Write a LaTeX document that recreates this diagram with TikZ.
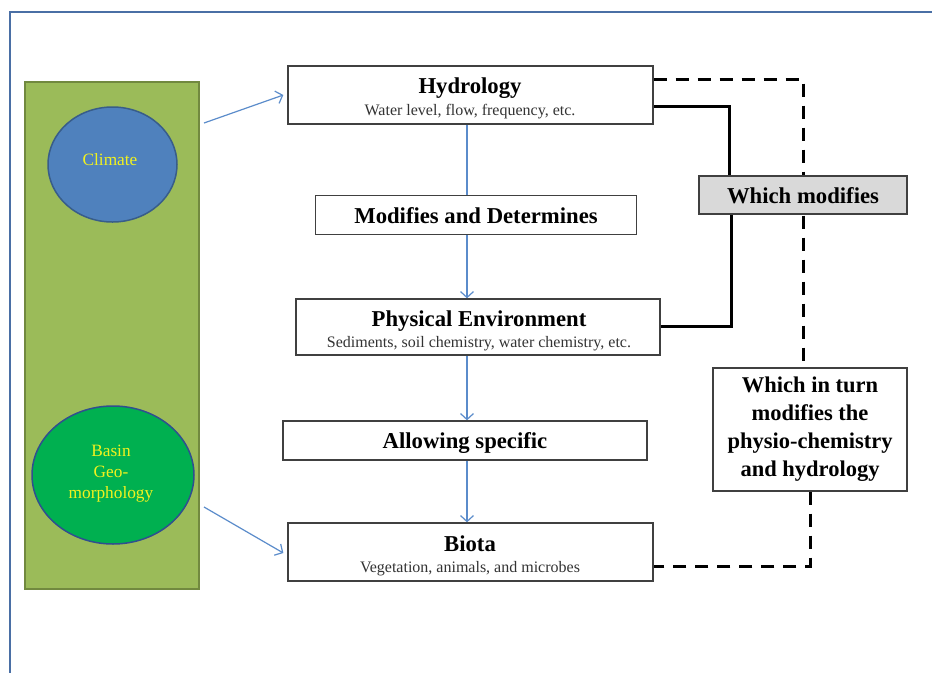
\documentclass[tikz,border=0pt]{standalone}
\usepackage{fontspec}
\setmainfont{Liberation Serif}
\usetikzlibrary{arrows.meta,shapes.geometric,backgrounds}
\definecolor{framec}{HTML}{4A6FA5}
\definecolor{panelfill}{HTML}{9BBB59}
\definecolor{paneldraw}{HTML}{71893F}
\definecolor{climfill}{HTML}{4F81BD}
\definecolor{climdraw}{HTML}{385D8A}
\definecolor{basinfill}{HTML}{00B050}
\definecolor{basindraw}{HTML}{2F4F8F}
\definecolor{labyellow}{HTML}{F2F21E}
\definecolor{arrowc}{HTML}{5B8CCB}
\definecolor{boxc}{HTML}{404040}
\definecolor{grayfill}{HTML}{D9D9D9}
\begin{document}
\begin{tikzpicture}[x=1pt,y=-1pt,
  box/.style={rectangle,draw=boxc,line width=1.3pt,fill=white,inner sep=0pt},
  titletext/.style={font=\fontsize{22.7}{27}\selectfont\bfseries,anchor=base,inner sep=0pt},
  subtext/.style={font=\fontsize{16}{19}\selectfont,text=black!80,anchor=base,inner sep=0pt},
  ovaltext/.style={font=\fontsize{17.3}{21}\selectfont,text=labyellow,align=center,inner sep=0pt},
  flow/.style={draw=arrowc,line width=1.2pt,-{Straight Barb[length=6pt,width=13pt]}},
  flowplain/.style={draw=arrowc,line width=1.2pt},
  solidlink/.style={draw=black,line width=3pt},
  dashlink/.style={draw=black,line width=3pt,dash pattern=on 13pt off 9pt}]
\useasboundingbox (0,0) rectangle (932,673);
% left panel
\node[rectangle,fill=panelfill,draw=paneldraw,line width=1.5pt,minimum width=174pt,minimum height=507pt,inner sep=0pt] (panel) at (112,335.5) {};
\node[ellipse,fill=climfill,draw=climdraw,line width=1.5pt,minimum width=129pt,minimum height=115pt,inner sep=0pt] (clim) at (112.5,164.5) {};
\node[ovaltext] (climT) at (110,160) {Climate};
\node[ellipse,fill=basinfill,draw=basindraw,line width=1.5pt,minimum width=162pt,minimum height=138pt,inner sep=0pt] (basin) at (113,475) {};
\node[ovaltext] (basinT) at (111,474) {Basin\\Geo-\\morphology};
% central boxes
\node[box,minimum width=365pt,minimum height=58pt] (hyd) at (470.5,95) {};
\node[titletext] (hydT) at (470,93) {Hydrology};
\node[subtext] (hydS) at (470,115) {Water level, flow, frequency, etc.};
\node[box,minimum width=321pt,minimum height=39pt] (mod) at (476,215) {};
\node[titletext] (modT) at (476,223) {Modifies and Determines};
\node[box,minimum width=364pt,minimum height=56pt] (phy) at (478,327) {};
\node[titletext] (phyT) at (479,326) {Physical Environment};
\node[subtext] (phyS) at (479,347) {Sediments, soil chemistry, water chemistry, etc.};
\node[box,minimum width=364pt,minimum height=39pt] (allow) at (465,440.5) {};
\node[titletext] (allowT) at (465,448) {Allowing specific};
\node[box,minimum width=365pt,minimum height=58pt] (biota) at (470.5,552) {};
\node[titletext] (biotaT) at (470,551) {Biota};
\node[subtext] (biotaS) at (470,572) {Vegetation, animals, and microbes};
% right boxes
\node[box,fill=grayfill,minimum width=208pt,minimum height=38pt] (wm) at (803,195) {};
\node[titletext] (wmT) at (803,203) {Which modifies};
\node[box,minimum width=194pt,minimum height=123pt] (wit) at (810,429.5) {};
\node[font=\fontsize{22.5}{28}\selectfont\bfseries,align=center,inner sep=0pt] (witT) at (810,429) {Which in turn\\modifies the\\physio-chemistry\\and hydrology};
% connectors
\coordinate (axis) at (467,0);
\coordinate (cstart) at (204,123);
\coordinate (bstart) at (204,507);
\begin{pgfonlayer}{background}
\fill[white] (0,0) rectangle (932,673);
\draw[framec,line width=2pt] (932,12) -- (9.5,12) -- (9.5,673);
\draw[flowplain] (hyd.south -| axis) -- (mod.north -| axis);
\draw[flow] (mod.south -| axis) -- (phy.north -| axis);
\draw[flow] (phy.south -| axis) -- (allow.north -| axis);
\draw[flow] (allow.south -| axis) -- (biota.north -| axis);
\draw[solidlink] ([yshift=-11pt]hyd.east) -| ([xshift=-74pt]wm.north);
\draw[solidlink] ([xshift=-72pt]wm.south) |- ([yshift=1pt]phy.east);
\draw[dashlink] ([yshift=16pt]hyd.east) -| ([xshift=-7pt]wit.north);
\draw[dashlink] (wit.south) |- ([yshift=-14pt]biota.east);
\end{pgfonlayer}
\draw[flow] (cstart) -- ([xshift=-4pt]hyd.west);
\draw[flow] (bstart) -- ([xshift=-4pt,yshift=-1pt]biota.west);
\end{tikzpicture}
\end{document}
